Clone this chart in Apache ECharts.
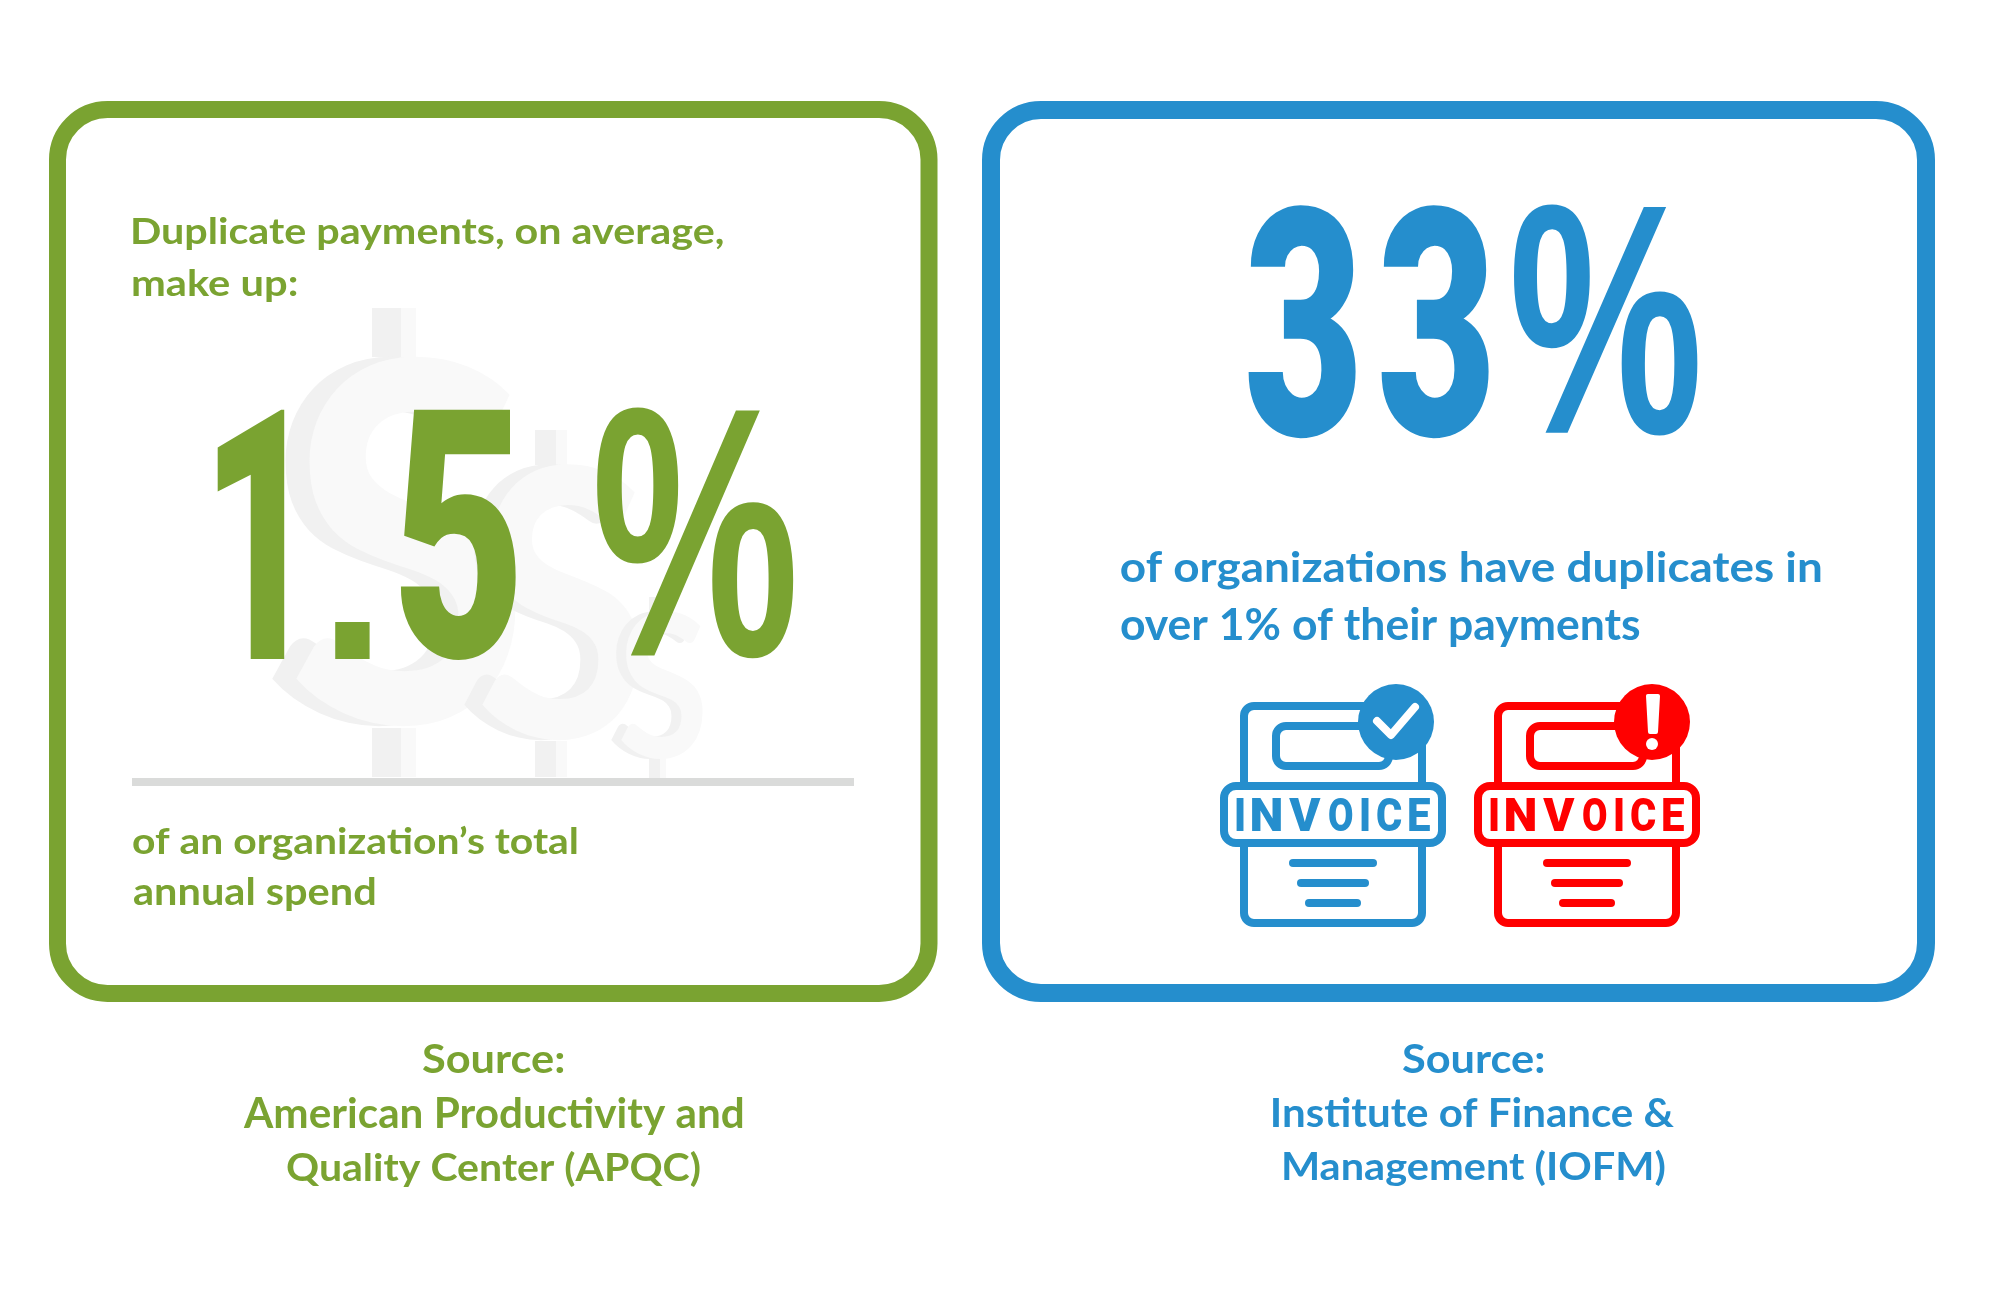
<!DOCTYPE html>
<html>
<head>
<meta charset="utf-8">
<title>Duplicate payments</title>
<style>
  html, body { margin: 0; padding: 0; background: #fff; }
  #chart-container { width: 2000px; height: 1300px; }
</style>
<script src="https://cdn.jsdelivr.net/npm/echarts@6/dist/echarts.min.js"></script>
</head>
<body>
<div id="chart-container"></div>
<script>
const leftValue = ['1', '.', '5', '%'];
const rightValue = ['3', '3', '%'];
const leftHead = ['Duplicate payments, on average,', 'make up:'];
const leftFoot = ['of an organization\u2019s total', 'annual spend'];
const rightBody = ['of organizations have duplicates in', 'over 1% of their payments'];
const leftSource = ['Source:', 'American Productivity and', 'Quality Center (APQC)'];
const rightSource = ['Source:', 'Institute of Finance &', 'Management (IOFM)'];
const invoiceWord = ['I', 'N', 'V', 'O', 'I', 'C', 'E'];

const GREEN = '#7aa331';
const BLUE = '#258ecd';
const RED = '#ff0000';
const PALE_BACK = '#f1f1f1';
const PALE_FRONT = '#f9f9f9';
const BODY_FONT = '700 40px Lato, "Open Sans", sans-serif';
const BIG_FONT = '900 300px Roboto, "Liberation Sans", sans-serif';
const SYMBOL_FONT = '700 300px "Liberation Sans", sans-serif';
const LETTER_FONT = '900 40px Roboto, sans-serif';
const DOLLAR_FONT = '700 400px Lato, sans-serif';

const ctx = document.createElement('canvas').getContext('2d');
const elements = [];

// fits the ink of a text into a box, so the fallback fonts still land where the original ones did
function fit(text, font, fill, box) {
    ctx.font = font;
    ctx.textBaseline = 'middle';
    ctx.textAlign = 'left';
    const m = ctx.measureText(text);
    const sx = (box[1] - box[0]) / (m.actualBoundingBoxLeft + m.actualBoundingBoxRight);
    const sy = (box[3] - box[2]) / (m.actualBoundingBoxAscent + m.actualBoundingBoxDescent);
    elements.push({
        type: 'text',
        x: box[0] + sx * m.actualBoundingBoxLeft,
        y: box[2] + sy * m.actualBoundingBoxAscent,
        scaleX: sx,
        scaleY: sy,
        silent: true,
        style: {text: text, font: font, fill: fill, align: 'left', verticalAlign: 'middle',
            textAlign: 'left', textVerticalAlign: 'middle'}
    });
}

function frame(x0, x1, y0, y1, color, lw) {
    elements.push({
        type: 'rect', silent: true,
        shape: {x: x0, y: y0, width: x1 - x0, height: y1 - y0, r: 50},
        style: {fill: '#fff', stroke: color, lineWidth: lw}
    });
}

function block(x0, x1, y0, y1, fill) {
    elements.push({
        type: 'rect', silent: true,
        shape: {x: x0, y: y0, width: x1 - x0, height: y1 - y0},
        style: {fill: fill}
    });
}

function outline(x0, x1, y0, y1, r, color, fill) {
    elements.push({
        type: 'rect', silent: true,
        shape: {x: x0, y: y0, width: x1 - x0, height: y1 - y0, r: r},
        style: {fill: fill, stroke: color, lineWidth: 8}
    });
}

function stroke(points, color, lw) {
    elements.push({
        type: 'polyline', silent: true,
        shape: {points: points},
        style: {fill: 'none', stroke: color, lineWidth: lw, lineCap: 'round', lineJoin: 'round'}
    });
}

// S with the two short bars above and below, back layer sits left of the front one
function dollar(sx0, sx1, shift, sy0, sy1, top, bottom, barX0, barX1, barX2) {
    block(barX0, barX1, top, sy0 + 2, PALE_BACK);
    block(barX1, barX2, top, sy0 + 2, PALE_FRONT);
    block(barX0, barX1, sy1 - 2, bottom, PALE_BACK);
    block(barX1, barX2, sy1 - 2, bottom, PALE_FRONT);
    fit('S', DOLLAR_FONT, PALE_BACK, [sx0 - shift, sx1 - shift, sy0, sy1]);
    fit('S', DOLLAR_FONT, PALE_FRONT, [sx0, sx1, sy0, sy1]);
}

function invoice(dx, circleDx, color) {
    outline(1244 + dx, 1422 + dx, 706, 923, 10, color, '#fff');
    outline(1276 + dx, 1389 + dx, 726, 766, 10, color, '#fff');
    outline(1224 + dx, 1442 + dx, 786, 843, 12, color, '#fff');

    const letterBoxes = [[1236, 1244], [1252, 1281], [1288, 1321], [1329, 1353], [1361, 1369], [1377, 1402], [1409, 1430]];
    invoiceWord.forEach((letter, i) => {
        fit(letter, LETTER_FONT, color, [letterBoxes[i][0] + dx, letterBoxes[i][1] + dx, 798, 831]);
    });

    stroke([[1293 + dx, 863], [1373 + dx, 863]], color, 8);
    stroke([[1301 + dx, 883], [1365 + dx, 883]], color, 8);
    stroke([[1309 + dx, 903], [1357 + dx, 903]], color, 8);

    elements.push({
        type: 'circle', silent: true,
        shape: {cx: 1396 + circleDx, cy: 722, r: 38},
        style: {fill: color}
    });
}

frame(57.5, 929, 109.5, 993.5, GREEN, 17);
frame(991, 1926, 110, 993, BLUE, 18);

dollar(293, 517, 24, 355, 730, 308, 777, 372, 401, 416);
dollar(480, 640, 18, 463, 743, 430, 777, 535, 556, 567);
dollar(620, 703, 10, 610, 760, 597, 778, 649, 660, 666);

block(132, 854, 778, 786, '#dadbda');

// left card
fit(leftValue[0], BIG_FONT, GREEN, [217, 287, 407, 659]);
fit(leftValue[1], SYMBOL_FONT, GREEN, [334, 372, 620, 659]);
fit(leftValue[2], BIG_FONT, GREEN, [399, 518, 407, 662]);
fit(leftValue[3], SYMBOL_FONT, GREEN, [595, 796, 405, 661]);
fit(leftHead[0], BODY_FONT, GREEN, [133, 723, 216, 251]);
fit(leftHead[1], BODY_FONT, GREEN, [133, 297, 268, 302]);
fit(leftFoot[0], BODY_FONT, GREEN, [133, 577, 825, 861]);
fit(leftFoot[1], BODY_FONT, GREEN, [133, 375, 877, 912]);

// right card
fit(rightValue[0], BIG_FONT, BLUE, [1247, 1357, 201, 440]);
fit(rightValue[1], BIG_FONT, BLUE, [1380, 1490, 201, 440]);
fit(rightValue[2], SYMBOL_FONT, BLUE, [1512, 1700, 202, 438]);
fit(rightBody[0], BODY_FONT, BLUE, [1121, 1821, 550, 590]);
fit(rightBody[1], BODY_FONT, BLUE, [1121, 1640, 608, 648]);

invoice(0, 0, BLUE);
invoice(254, 256, RED);
stroke([[1377, 721], [1391, 735], [1415, 707]], '#fff', 8);
elements.push({
    type: 'polygon', silent: true,
    shape: {points: [[1648, 696], [1658, 696], [1656, 732], [1650, 732]]},
    style: {fill: '#fff', stroke: '#fff', lineWidth: 4, lineJoin: 'round'}
});
elements.push({
    type: 'circle', silent: true,
    shape: {cx: 1652, cy: 744, r: 6},
    style: {fill: '#fff'}
});

// sources under the cards
fit(leftSource[0], BODY_FONT, GREEN, [422, 564, 1044, 1073]);
fit(leftSource[1], BODY_FONT, GREEN, [243, 743, 1097, 1135]);
fit(leftSource[2], BODY_FONT, GREEN, [287, 700, 1150, 1188]);
fit(rightSource[0], BODY_FONT, BLUE, [1402, 1544, 1044, 1073]);
fit(rightSource[1], BODY_FONT, BLUE, [1273, 1674, 1097, 1127]);
fit(rightSource[2], BODY_FONT, BLUE, [1284, 1665, 1150, 1188]);

const myChart = echarts.init(document.getElementById('chart-container'));
myChart.setOption({
    animation: false,
    backgroundColor: '#fff',
    graphic: {elements: elements}
});
</script>
</body>
</html>
